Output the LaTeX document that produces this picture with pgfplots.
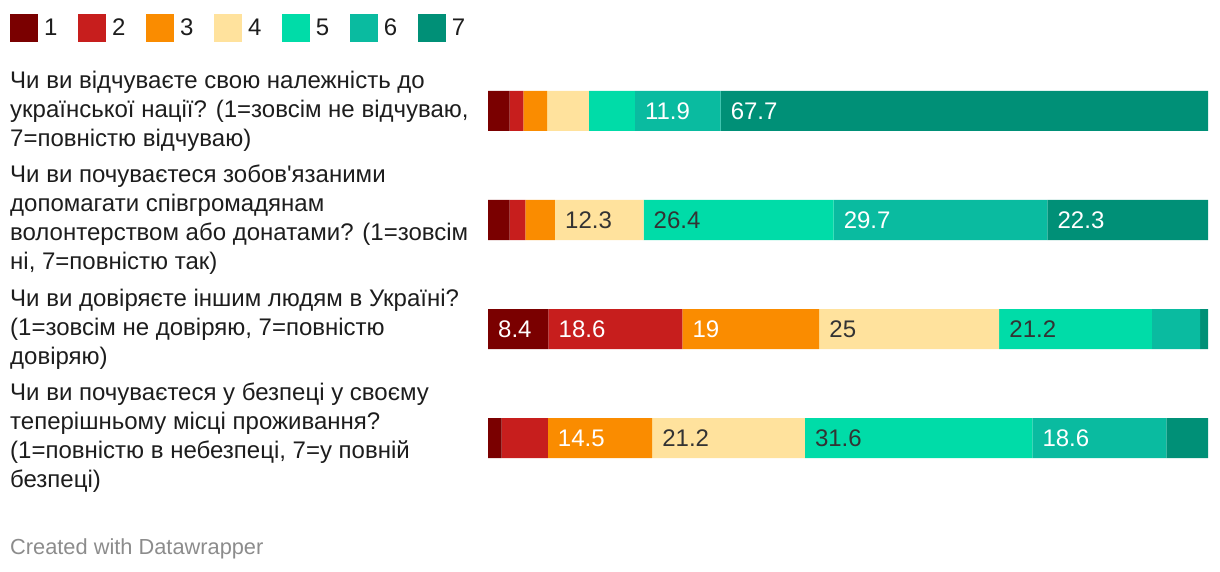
\documentclass[border=0pt]{standalone}
\usepackage{pgfplots}
\pgfplotsset{compat=1.18}
\usepackage{pgfplotstable}
\usepackage{fontspec}
\setmainfont{Liberation Sans}
\definecolor{c1}{HTML}{7A0000}
\definecolor{c2}{HTML}{C71E1D}
\definecolor{c3}{HTML}{FA8C00}
\definecolor{c4}{HTML}{FFE29D}
\definecolor{c5}{HTML}{00DCA8}
\definecolor{c6}{HTML}{0ABBA0}
\definecolor{c7}{HTML}{009077}
\definecolor{txt}{HTML}{1D1D1D}
\definecolor{dark}{HTML}{333333}
\definecolor{foot}{HTML}{8C8C8C}

\pgfplotstableread{
y v lab
0 3.0 {}
1 3.0 {}
2 8.4 8.4
3 1.9 {}
}\sone
\pgfplotstableread{
y v lab
0 1.9 {}
1 2.2 {}
2 18.6 18.6
3 6.4 {}
}\stwo
\pgfplotstableread{
y v lab
0 3.3 {}
1 4.1 {}
2 19.0 19
3 14.5 14.5
}\sthree
\pgfplotstableread{
y v lab
0 5.8 {}
1 12.3 12.3
2 25.0 25
3 21.2 21.2
}\sfour
\pgfplotstableread{
y v lab
0 6.4 {}
1 26.4 26.4
2 21.2 21.2
3 31.6 31.6
}\sfive
\pgfplotstableread{
y v lab
0 11.9 11.9
1 29.7 29.7
2 6.7 {}
3 18.6 18.6
}\ssix
\pgfplotstableread{
y v lab
0 67.7 67.7
1 22.3 22.3
2 1.1 {}
3 5.8 {}
}\sseven

\begin{document}
\begin{tikzpicture}
\path[use as bounding box] (0,0) rectangle (1220pt,572pt);
\begin{axis}[
  at={(488pt,79.5pt)}, anchor=south west,
  scale only axis, width=720pt, height=436pt,
  xmin=0, xmax=100, ymin=-0.5, ymax=3.5, y dir=reverse,
  xbar stacked, bar width=40pt,
  axis line style={draw=none}, major tick length=0pt,
  xtick=\empty, ytick={0,1,2,3},
  yticklabels={
    {Чи ви відчуваєте свою належність до\\української нації? (1=зовсім не відчуваю,\\7=повністю відчуваю)},
    {Чи ви почуваєтеся зобов\textquotesingle язаними\\допомагати співгромадянам\\волонтерством або донатами? (1=зовсім\\ні, 7=повністю так)},
    {Чи ви довіряєте іншим людям в Україні?\\(1=зовсім не довіряю, 7=повністю\\довіряю)},
    {Чи ви почуваєтеся у безпеці у своєму\\теперішньому місці проживання?\\(1=повністю в небезпеці, 7=у повній\\безпеці)}},
  yticklabel style={anchor=west, xshift=-478pt, align=left, inner sep=0pt,
    font=\fontsize{24}{29}\selectfont, text=txt},
  clip=false,
  point meta=explicit symbolic,
  nodes near coords,
  visualization depends on={rawx \as \segw},
  every node near coord/.append style={anchor=west, xshift={-\segw*3.6pt+10pt},
    font=\fontsize{24}{28}\selectfont, inner sep=0pt},
  legend columns=7,
  legend style={at={(-0.66389,1.0975)}, anchor=north west, draw=none, fill=none,
    inner sep=0pt, font=\fontsize{24}{28}\selectfont, text=txt,
    nodes={inner sep=0pt},
    /tikz/every odd column/.append style={column sep=6pt},
    /tikz/every even column/.append style={column sep=20.6pt}},
  legend image code/.code={\fill[#1] (0pt,-14pt) rectangle (28pt,14pt);},
]
\addplot[fill=c1, draw=none, nodes near coords style={text=white}] table[x=v, y=y, meta=lab] {\sone};
\addlegendentry{1}
\addplot[fill=c2, draw=none, nodes near coords style={text=white}] table[x=v, y=y, meta=lab] {\stwo};
\addlegendentry{2}
\addplot[fill=c3, draw=none, nodes near coords style={text=white}] table[x=v, y=y, meta=lab] {\sthree};
\addlegendentry{3}
\addplot[fill=c4, draw=none, nodes near coords style={text=dark}] table[x=v, y=y, meta=lab] {\sfour};
\addlegendentry{4}
\addplot[fill=c5, draw=none, nodes near coords style={text=dark}] table[x=v, y=y, meta=lab] {\sfive};
\addlegendentry{5}
\addplot[fill=c6, draw=none, nodes near coords style={text=white}] table[x=v, y=y, meta=lab] {\ssix};
\addlegendentry{6}
\addplot[fill=c7, draw=none, nodes near coords style={text=white}] table[x=v, y=y, meta=lab] {\sseven};
\addlegendentry{7}
\node[anchor=west, inner sep=0pt, text=foot, font=\fontsize{21.8}{24}\selectfont]
  at (rel axis cs:-0.66389,-0.1296) {Created with Datawrapper};
\end{axis}
\end{tikzpicture}
\end{document}
